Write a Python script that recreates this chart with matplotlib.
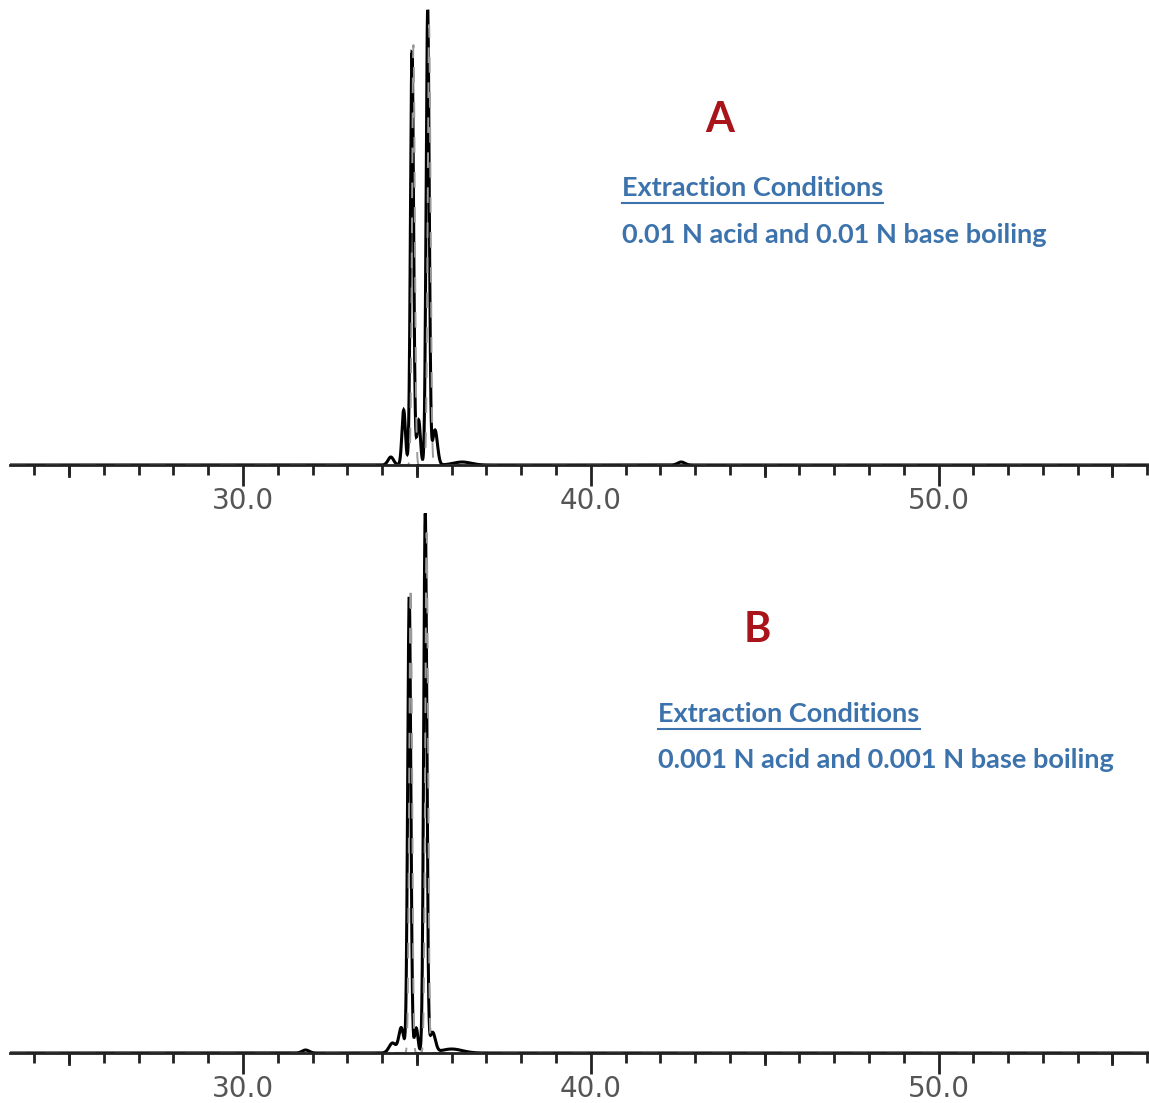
import matplotlib.pyplot as plt
import numpy as np

# retention time window (min)
x_min, x_max = 23.3, 56.05

# peaks: retention time, height, width (sigma, min)
top_rt = [34.25, 34.62, 34.86, 35.05, 35.31, 35.52, 36.3, 42.6]
top_h = [8, 55, 413, 45, 455, 35, 3, 3]
top_w = [0.08, 0.05, 0.045, 0.05, 0.045, 0.07, 0.25, 0.1]

bot_rt = [34.3, 34.55, 34.78, 34.98, 35.24, 35.45, 36.0, 31.8]
bot_h = [10, 25, 456, 25, 539, 20, 4, 3]
bot_w = [0.1, 0.07, 0.045, 0.05, 0.045, 0.08, 0.3, 0.1]

# second (overlaid) trace, shown in grey
top_rt2 = [34.9, 35.35]
top_h2 = [420, 440]
bot_rt2 = [34.82, 35.28]
bot_h2 = [470, 520]

panel_labels = ["A", "B"]
conditions = ["0.01 N acid and 0.01 N base boiling",
              "0.001 N acid and 0.001 N base boiling"]

major_ticks = [30, 40, 50]
mid_ticks = [25, 35, 45, 55]
minor_ticks = np.arange(24, 57, 1)
tick_labels = ["30.0", "40.0", "50.0"]


def trace(t, rts, hs, ws):
    y = np.zeros_like(t)
    for rt, h, w in zip(rts, hs, ws):
        y += h * np.exp(-0.5 * ((t - rt) / w) ** 2)
    return y


t = np.linspace(x_min, x_max, 8000)

fig = plt.figure(figsize=(11.49, 11.03), dpi=100)
ax_top = fig.add_axes([0.0087, 1 - 465 / 1103, 0.9913, 465 / 1103])
ax_bot = fig.add_axes([0.0087, 1 - 1053 / 1103, 0.9913, 548 / 1103])

panels = [
    (ax_top, trace(t, top_rt, top_h, top_w), trace(t, top_rt2, top_h2, [0.04, 0.04]), 465),
    (ax_bot, trace(t, bot_rt, bot_h, bot_w), trace(t, bot_rt2, bot_h2, [0.04, 0.04]), 548),
]

for ax, y1, y2, ymax in panels:
    ax.plot(t, y1, color="black", lw=2.2, solid_joinstyle="miter")
    ax.plot(t, y2, color="#9a9a9a", lw=1.4, ls=(0, (8, 10)))
    ax.set_xlim(x_min, x_max)
    ax.set_ylim(0, ymax)
    ax.patch.set_visible(False)
    for s in ["top", "left", "right"]:
        ax.spines[s].set_visible(False)
    ax.spines["bottom"].set_linewidth(2.0)
    ax.spines["bottom"].set_color("#222222")
    ax.set_yticks([])
    ax.set_xticks(major_ticks)
    ax.set_xticklabels(tick_labels)
    ax.set_xticks(minor_ticks, minor=True)
    ax.tick_params(axis="x", which="major", direction="out", length=15, width=2,
                   color="#222222", labelsize=20, labelcolor="#555555", pad=1)
    ax.tick_params(axis="x", which="minor", direction="out", length=7, width=2,
                   color="#222222")
    # medium ticks at the half-decade marks
    for m in mid_ticks:
        ax.plot([m, m], [0, -11 / ymax], color="#222222", lw=2,
                clip_on=False, transform=ax.get_xaxis_transform())

# panel letters and extraction conditions
text_blue = "#3d73ad"
fig.text(720 / 1149, 1 - 120 / 1103, panel_labels[0], color="#a8141a",
         fontsize=30, fontweight="bold", family="Lato", ha="center", va="center")
fig.text(622 / 1149, 1 - 188 / 1103, "Extraction Conditions", color=text_blue,
         fontsize=19.5, fontweight="bold", family="Lato", ha="left", va="center")
fig.lines.append(plt.Line2D([622 / 1149, 883 / 1149], [1 - 203 / 1103] * 2,
                            transform=fig.transFigure, color=text_blue, lw=1.5))
fig.text(622 / 1149, 1 - 235 / 1103, conditions[0], color=text_blue,
         fontsize=19.5, fontweight="bold", family="Lato", ha="left", va="center")

fig.text(757 / 1149, 1 - 630 / 1103, panel_labels[1], color="#a8141a",
         fontsize=30, fontweight="bold", family="Lato", ha="center", va="center")
fig.text(658 / 1149, 1 - 714 / 1103, "Extraction Conditions", color=text_blue,
         fontsize=19.5, fontweight="bold", family="Lato", ha="left", va="center")
fig.lines.append(plt.Line2D([658 / 1149, 920 / 1149], [1 - 729 / 1103] * 2,
                            transform=fig.transFigure, color=text_blue, lw=1.5))
fig.text(658 / 1149, 1 - 760 / 1103, conditions[1], color=text_blue,
         fontsize=19.5, fontweight="bold", family="Lato", ha="left", va="center")

fig.savefig("out.png", dpi=100, facecolor="white")
